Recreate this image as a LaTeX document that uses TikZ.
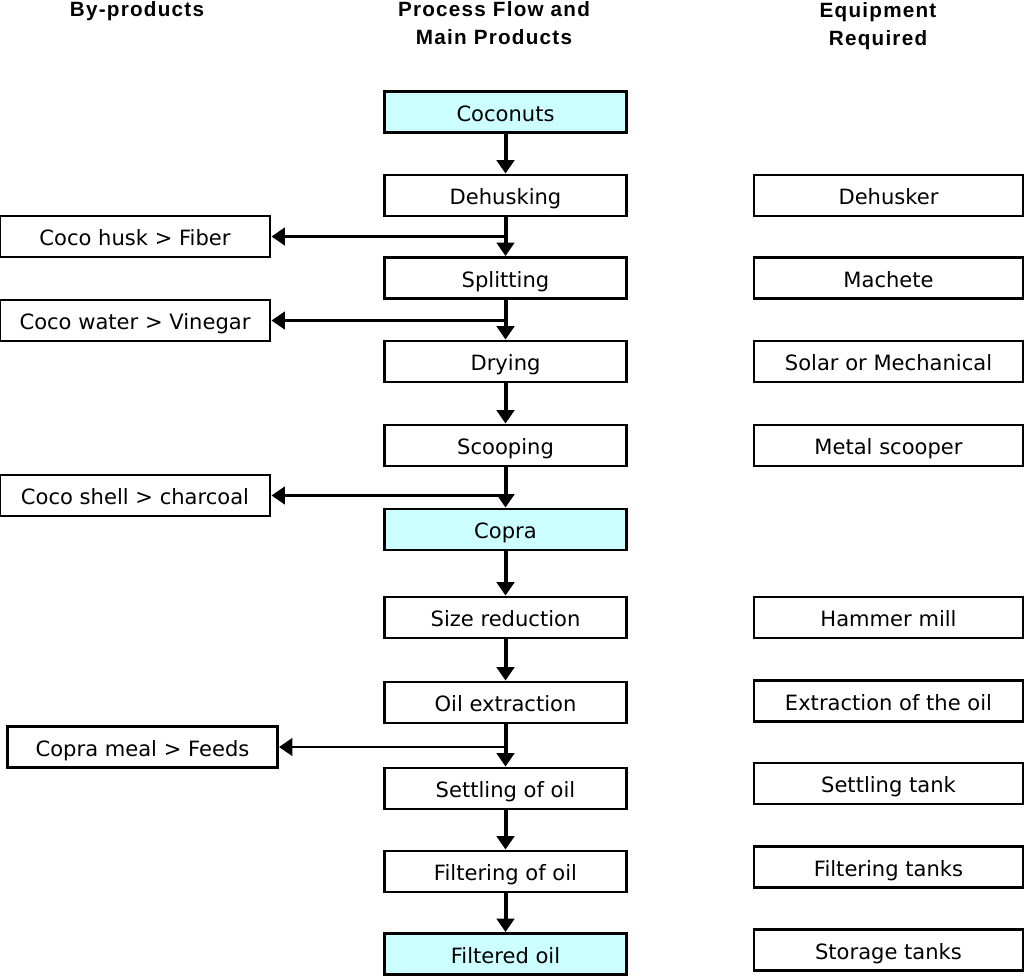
\documentclass[tikz,border=0pt]{standalone}
\usepackage{fontspec}
\setmainfont{DejaVu Sans}
\newfontfamily\headfont{Liberation Sans}[LetterSpace=6]
\usetikzlibrary{arrows.meta}
\definecolor{prodcyan}{HTML}{CCFFFF}

\begin{document}
\begin{tikzpicture} [x=0.75pt,y=-0.75pt,
  box/.style={draw,line width=2.2pt,minimum height=30.75pt,inner sep=0pt,text height=14pt,text depth=0pt,font=\fontsize{15.8}{19}\selectfont},
  proc/.style={box,minimum width=181.5pt},
  prod/.style={proc,fill=prodcyan},
  equip/.style={box,minimum width=201.75pt},
  byprod/.style={box,minimum width=202.5pt},
  head/.style={align=center,font=\headfont\bfseries\fontsize{15.5}{21}\selectfont},
  flow/.style={line width=3pt,-{Triangle[width=13pt,length=10pt]}},
  branch/.style={line width=2.2pt,-{Triangle[width=13pt,length=10pt]}}]
\useasboundingbox (0,0) rectangle (1024,975);
% column heads
\node [head] (hby) at (137,11) {By-products};
\node [head] (hflow) at (494,23) {Process Flow and\\Main Products};
\node [head] (hequip) at (878,26) {Equipment\\Required};
% process flow
\node [prod] (coco) at (505.5,112) {Coconuts};
\node [proc] (dehusk) at (505.5,195.5) {Dehusking};
\node [proc] (split) at (505.5,278) {Splitting};
\node [proc] (dry) at (505.5,361.5) {Drying};
\node [proc] (scoop) at (505.5,445.5) {Scooping};
\node [prod] (copra) at (505.5,529.5) {Copra};
\node [proc] (size) at (505.5,617.5) {Size reduction};
\node [proc] (oil) at (505.5,702.5) {Oil extraction};
\node [proc] (settle) at (505.5,788.5) {Settling of oil};
\node [proc] (filter) at (505.5,871.5) {Filtering of oil};
\node [prod] (filtered) at (505.5,954) {Filtered oil};
% equipment
\node [equip] (dehusker) at (888.5,195.5) {Dehusker};
\node [equip] (machete) at (888.5,278) {Machete};
\node [equip] (solar) at (888.5,361.5) {Solar or Mechanical};
\node [equip] (scooper) at (888.5,445.5) {Metal scooper};
\node [equip] (hammer) at (888.5,617.5) {Hammer mill};
\node [equip] (extract) at (888.5,701) {Extraction of the oil};
\node [equip] (tank) at (888.5,783.5) {Settling tank};
\node [equip] (ftanks) at (888.5,867) {Filtering tanks};
\node [equip] (storage) at (888.5,950) {Storage tanks};
% by-products
\node [byprod] (husk) at (135,236.5) {Coco husk > Fiber};
\node [byprod] (water) at (135,320.5) {Coco water > Vinegar};
\node [byprod] (shell) at (135,495.5) {Coco shell > charcoal};
\node [byprod] (meal) at (142.5,747) {Copra meal > Feeds};
% arrows
\draw [flow] (coco)--(dehusk);
\draw [flow] (dehusk)--(split);
\draw [flow] (split)--(dry);
\draw [flow] (dry)--(scoop);
\draw [flow] (scoop)--(copra);
\draw [flow] (copra)--(size);
\draw [flow] (size)--(oil);
\draw [flow] (oil)--(settle);
\draw [flow] (settle)--(filter);
\draw [flow] (filter)--(filtered);
\draw [branch] (dehusk.south |- husk)--(husk);
\draw [branch] (split.south |- water)--(water);
\draw [branch] (scoop.south |- shell)--(shell);
\draw [branch] (oil.south |- meal)--(meal);
\end{tikzpicture}
\end{document}
